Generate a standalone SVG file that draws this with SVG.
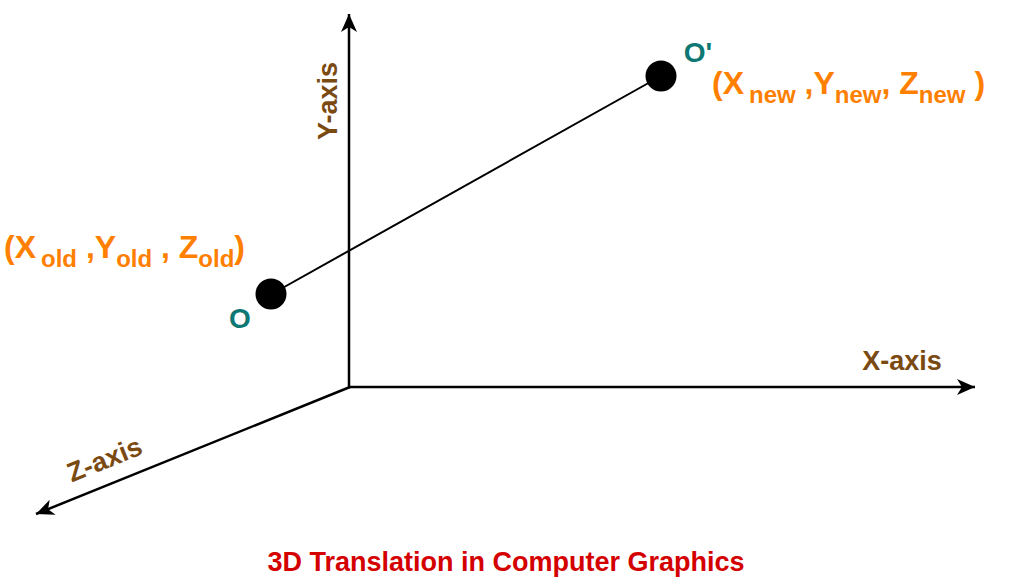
<svg xmlns="http://www.w3.org/2000/svg" width="1024" height="578" viewBox="0 0 1024 578">
<style>
.axis{stroke:#000;stroke-width:2.5;fill:none}
.lbl{font-family:"Liberation Sans",Arial,sans-serif;font-weight:bold;fill:#7a4a12;font-size:27px}
.pt{font-family:"Liberation Sans",Arial,sans-serif;font-weight:bold;fill:#0e7773;font-size:28px}
.co{font-family:"Liberation Sans",Arial,sans-serif;font-weight:bold;fill:#ff8000;font-size:32px}
.sub{font-size:24px}
.title{font-family:"Liberation Sans",Arial,sans-serif;font-weight:bold;fill:#d40000;font-size:27px}
</style>
<defs>
<marker id="ah2" viewBox="0 0 20 20" refX="18" refY="10" markerWidth="20" markerHeight="20" markerUnits="userSpaceOnUse" orient="auto">
<path d="M0,2 L18,10 L0,18 L5,10 Z" fill="#000"/>
</marker>
</defs>
<rect width="1024" height="578" fill="#fff"/>
<g id="connectors">
<line class="axis" x1="349" y1="387" x2="349" y2="14" marker-end="url(#ah2)"/>
<line class="axis" x1="348" y1="387" x2="975" y2="387" marker-end="url(#ah2)"/>
<line class="axis" x1="350" y1="387" x2="36" y2="514" marker-end="url(#ah2)"/>
<line x1="270" y1="295" x2="661" y2="76" stroke="#000" stroke-width="2"/>
</g>
<g id="y-axis-label"><text class="lbl" transform="translate(337,101) rotate(-90)" text-anchor="middle">Y-axis</text></g>
<g id="x-axis-label"><text class="lbl" x="902" y="370" text-anchor="middle">X-axis</text></g>
<g id="z-axis-label"><text class="lbl" transform="translate(108,468) rotate(-22)" text-anchor="middle">Z-axis</text></g>
<g id="O">
<circle cx="271" cy="294" r="15.5" fill="#000"/>
<text class="pt" x="240" y="328" text-anchor="middle">O</text>
<text class="co" x="4" y="258">(X<tspan class="sub" dx="5" dy="9">old</tspan><tspan dy="-9"> ,Y</tspan><tspan class="sub" dy="9">old</tspan><tspan dy="-9"> , Z</tspan><tspan class="sub" dy="9">old</tspan><tspan dy="-9">)</tspan></text>
</g>
<g id="O-prime">
<circle cx="661" cy="76" r="15.5" fill="#000"/>
<text class="pt" x="698" y="62" text-anchor="middle">O'</text>
<text class="co" x="712" y="94">(X<tspan class="sub" dx="5" dy="9">new</tspan><tspan dy="-9"> ,Y</tspan><tspan class="sub" dy="9">new</tspan><tspan dy="-9">, Z</tspan><tspan class="sub" dy="9">new</tspan><tspan dy="-9"> )</tspan></text>
</g>
<g id="title"><text class="title" x="506" y="571" text-anchor="middle">3D Translation in Computer Graphics</text></g>
</svg>
